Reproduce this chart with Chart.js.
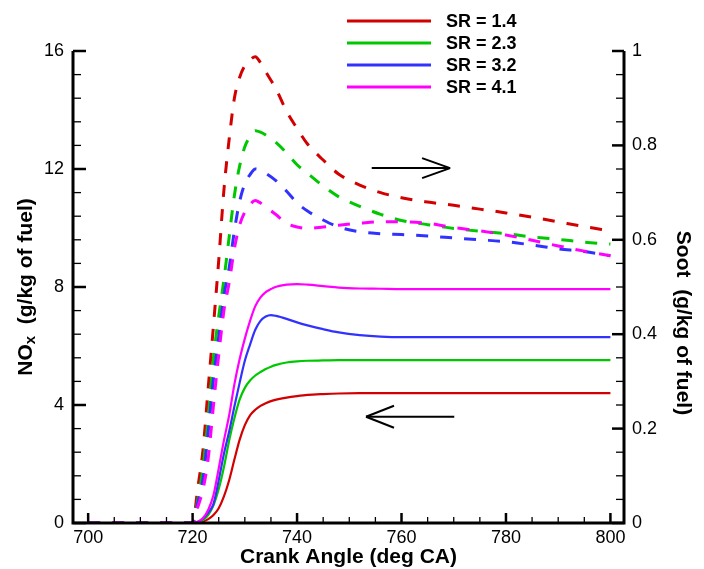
<!DOCTYPE html>
<html>
<head>
<meta charset="utf-8">
<script src="https://cdn.jsdelivr.net/npm/chart.js@4.4.1/dist/chart.umd.min.js"></script>
<style>
  body { margin: 0; background: #fff; }
  #wrap { width: 704px; height: 569px; }
</style>
</head>
<body>
<div id="wrap"><canvas id="noxSootChart"></canvas></div>
<script>
// Swirl ratio cases
const srLabels = ['SR = 1.4', 'SR = 2.3', 'SR = 3.2', 'SR = 4.1'];

// NOx (g/kg of fuel), left axis, solid lines
const noxAngle = [700, 705, 710, 715, 720, 721, 722, 723, 724, 725, 726, 727, 728, 729, 730, 731, 732, 733, 734, 735, 736, 738, 740, 742, 745, 748, 752, 756, 760, 770, 780, 790, 800];
const noxSR14 = [0, 0, 0, 0, 0, 0.01, 0.05, 0.13, 0.27, 0.5, 0.9, 1.45, 2.15, 2.82, 3.32, 3.65, 3.84, 3.97, 4.06, 4.13, 4.18, 4.25, 4.3, 4.34, 4.37, 4.39, 4.4, 4.4, 4.4, 4.4, 4.4, 4.4, 4.4];
const noxSR23 = [0, 0, 0, 0, 0, 0.02, 0.1, 0.28, 0.6, 1.15, 1.9, 2.8, 3.55, 4.18, 4.58, 4.83, 5.0, 5.12, 5.22, 5.3, 5.36, 5.44, 5.48, 5.5, 5.51, 5.52, 5.52, 5.52, 5.52, 5.52, 5.52, 5.52, 5.52];
const noxSR32 = [0, 0, 0, 0, 0, 0.04, 0.15, 0.35, 0.65, 1.45, 2.35, 3.1, 3.95, 4.75, 5.5, 6.05, 6.55, 6.85, 7.0, 7.05, 7.02, 6.92, 6.8, 6.7, 6.57, 6.46, 6.37, 6.32, 6.3, 6.3, 6.3, 6.3, 6.3];
const noxSR41 = [0, 0, 0, 0, 0, 0.04, 0.17, 0.45, 0.95, 1.85, 2.8, 3.65, 4.7, 5.55, 6.25, 6.85, 7.35, 7.65, 7.83, 7.93, 8.01, 8.08, 8.1, 8.08, 8.03, 7.98, 7.95, 7.94, 7.93, 7.93, 7.93, 7.93, 7.93];

// Soot (g/kg of fuel), right axis, dashed lines
const sootAngle = [700, 705, 710, 715, 720, 721, 722, 723, 724, 725, 726, 727, 728, 729, 730, 731, 732, 733, 734, 736, 738, 740, 742, 745, 748, 752, 756, 760, 765, 770, 775, 780, 785, 790, 795, 800];
const sootSR14 = [0, 0, 0, 0, 0, 0.075, 0.156, 0.288, 0.419, 0.556, 0.706, 0.813, 0.9, 0.944, 0.969, 0.981, 0.988, 0.975, 0.956, 0.919, 0.872, 0.836, 0.803, 0.769, 0.739, 0.716, 0.7, 0.689, 0.68, 0.673, 0.665, 0.657, 0.648, 0.638, 0.628, 0.619];
const sootSR23 = [0, 0, 0, 0, 0, 0.05, 0.119, 0.225, 0.35, 0.438, 0.516, 0.606, 0.694, 0.756, 0.797, 0.819, 0.831, 0.828, 0.822, 0.806, 0.784, 0.759, 0.741, 0.714, 0.691, 0.671, 0.654, 0.641, 0.632, 0.624, 0.618, 0.613, 0.606, 0.601, 0.595, 0.591];
const sootSR32 = [0, 0, 0, 0, 0, 0.044, 0.094, 0.194, 0.306, 0.394, 0.481, 0.541, 0.619, 0.681, 0.719, 0.738, 0.75, 0.747, 0.741, 0.725, 0.703, 0.678, 0.661, 0.642, 0.627, 0.617, 0.613, 0.611, 0.608, 0.604, 0.6, 0.596, 0.589, 0.581, 0.575, 0.566];
const sootSR41 = [0, 0, 0, 0, 0, 0.034, 0.072, 0.138, 0.25, 0.356, 0.45, 0.509, 0.581, 0.631, 0.659, 0.675, 0.683, 0.678, 0.67, 0.653, 0.635, 0.627, 0.624, 0.627, 0.631, 0.635, 0.638, 0.638, 0.635, 0.626, 0.619, 0.61, 0.599, 0.587, 0.576, 0.566];

// Axis ticks
const angleTicks = [700, 720, 740, 760, 780, 800];
const noxTicks = [0, 4, 8, 12, 16];
const sootTicks = [0, 0.2, 0.4, 0.6, 0.8, 1];

const colors = ['rgb(210,0,0)', 'rgb(0,200,0)', 'rgb(50,50,255)', 'rgb(255,0,255)'];
const FONT = "'Liberation Sans', Arial, sans-serif";

const noxSeries = [noxSR14, noxSR23, noxSR32, noxSR41];
const sootSeries = [sootSR14, sootSR23, sootSR32, sootSR41];

const datasets = [];
noxSeries.forEach((vals, i) => {
    datasets.push({
        label: srLabels[i],
        data: noxAngle.map((a, j) => ({ x: a, y: vals[j] })),
        yAxisID: 'y',
        borderColor: colors[i],
        borderWidth: 2.2,
        order: 4 - i
    });
});
sootSeries.forEach((vals, i) => {
    datasets.push({
        label: srLabels[i] + ' soot',
        data: sootAngle.map((a, j) => ({ x: a, y: vals[j] })),
        yAxisID: 'y2',
        borderColor: colors[i],
        borderWidth: 3,
        borderDash: [12, 12],
        order: 4 - i
    });
});

function line(ctx, x1, y1, x2, y2) {
    ctx.beginPath();
    ctx.moveTo(x1, y1);
    ctx.lineTo(x2, y2);
    ctx.stroke();
}

// Frame with inward major/minor ticks, legend, arrows and axis titles
const decorations = {
    id: 'decorations',
    afterDraw(chart) {
        const { ctx, chartArea: a, scales: { x, y, y2 } } = chart;
        ctx.save();
        ctx.strokeStyle = '#000';
        ctx.fillStyle = '#000';

        // bottom ticks every 5 deg
        for (let v = 700; v <= 800; v += 5) {
            const px = x.getPixelForValue(v);
            const major = v % 20 === 0;
            ctx.lineWidth = major ? 2.5 : 1.3;
            line(ctx, px, a.bottom, px, a.bottom - (major ? 10 : 6));
        }
        // left ticks every 0.8
        for (let i = 0; i <= 20; i++) {
            const py = y.getPixelForValue(i * 0.8);
            const major = i % 5 === 0;
            ctx.lineWidth = major ? 2.5 : 1.3;
            line(ctx, a.left, py, a.left + (major ? 13 : 8), py);
        }
        // right ticks every 0.05
        for (let i = 0; i <= 20; i++) {
            const py = y2.getPixelForValue(i * 0.05);
            const major = i % 4 === 0;
            ctx.lineWidth = major ? 2.5 : 1.3;
            line(ctx, a.right, py, a.right - (major ? 12 : 8), py);
        }
        // axis lines (no top border)
        ctx.lineWidth = 3;
        ctx.beginPath();
        ctx.moveTo(a.left, a.top);
        ctx.lineTo(a.left, a.bottom);
        ctx.lineTo(a.right, a.bottom);
        ctx.lineTo(a.right, a.top);
        ctx.stroke();

        // arrows pointing to the matching axis
        ctx.lineWidth = 2;
        const ry = y.getPixelForValue(12.03);
        const rx1 = x.getPixelForValue(754.3), rx2 = x.getPixelForValue(769.3);
        line(ctx, rx1, ry, rx2, ry);
        line(ctx, rx2, ry, rx2 - 28, ry - 10);
        line(ctx, rx2, ry, rx2 - 28, ry + 10);
        const ly = y.getPixelForValue(3.6);
        const lx1 = x.getPixelForValue(753.2), lx2 = x.getPixelForValue(770.1);
        line(ctx, lx1, ly, lx2, ly);
        line(ctx, lx1, ly, lx1 + 28, ly - 11);
        line(ctx, lx1, ly, lx1 + 28, ly + 11);

        // legend
        ctx.font = 'bold 18px ' + FONT;
        ctx.textBaseline = 'middle';
        ctx.textAlign = 'left';
        srLabels.forEach((lab, i) => {
            const ly0 = 21 + i * 22;
            ctx.strokeStyle = colors[i];
            ctx.lineWidth = 3;
            line(ctx, 347, ly0, 431, ly0);
            ctx.fillText(lab, 446, ly0 + 1);
        });

        // x title
        ctx.fillStyle = '#000';
        ctx.font = 'bold 21px ' + FONT;
        ctx.textAlign = 'center';
        ctx.fillText('Crank Angle (deg CA)', (a.left + a.right) / 2, 557);

        // left title with subscript x
        ctx.save();
        ctx.translate(26, (a.top + a.bottom) / 2);
        ctx.rotate(-Math.PI / 2);
        const big = 'bold 21px ' + FONT, small = 'bold 15px ' + FONT;
        ctx.font = big;
        const wNO = ctx.measureText('NO').width;
        const wRest = ctx.measureText('  (g/kg of fuel)').width;
        ctx.font = small;
        const wX = ctx.measureText('x').width;
        let cx = -(wNO + wX + wRest) / 2;
        ctx.textAlign = 'left';
        ctx.font = big;
        ctx.fillText('NO', cx, 0);
        cx += wNO;
        ctx.font = small;
        ctx.fillText('x', cx, 5);
        cx += wX;
        ctx.font = big;
        ctx.fillText('  (g/kg of fuel)', cx, 0);
        ctx.restore();

        // right title
        ctx.save();
        ctx.translate(683, 323);
        ctx.rotate(Math.PI / 2);
        ctx.font = big;
        ctx.textAlign = 'center';
        ctx.fillText('Soot  (g/kg of fuel)', 0, 0);
        ctx.restore();

        ctx.restore();
    }
};

const tickFont = { family: FONT, size: 18 };

new Chart(document.getElementById('noxSootChart'), {
    type: 'line',
    data: { datasets: datasets },
    options: {
        responsive: true,
        maintainAspectRatio: false,
        animation: false,
        layout: { padding: { top: 51, left: 0, right: 0, bottom: 0 } },
        elements: {
            point: { radius: 0 },
            line: { cubicInterpolationMode: 'monotone', fill: false }
        },
        plugins: {
            legend: { display: false },
            tooltip: { enabled: false }
        },
        scales: {
            x: {
                type: 'linear',
                min: 697.1,
                max: 802.6,
                afterBuildTicks: s => { s.ticks = angleTicks.map(v => ({ value: v })); },
                afterFit: s => { s.height = 46; },
                ticks: { font: tickFont, color: '#000', padding: 4, maxRotation: 0 },
                grid: { display: false, drawTicks: false },
                border: { display: false }
            },
            y: {
                position: 'left',
                min: 0,
                max: 16,
                afterBuildTicks: s => { s.ticks = noxTicks.map(v => ({ value: v })); },
                afterFit: s => { s.width = 73; },
                ticks: { font: tickFont, color: '#000', padding: 9 },
                grid: { display: false, drawTicks: false },
                border: { display: false }
            },
            y2: {
                position: 'right',
                min: 0,
                max: 1,
                afterBuildTicks: s => { s.ticks = sootTicks.map(v => ({ value: v })); },
                afterFit: s => { s.width = 80; },
                ticks: {
                    font: tickFont,
                    color: '#000',
                    padding: 8,
                    callback: v => String(Math.round(v * 10) / 10)
                },
                grid: { display: false, drawTicks: false },
                border: { display: false }
            }
        }
    },
    plugins: [decorations]
});
</script>
</body>
</html>
